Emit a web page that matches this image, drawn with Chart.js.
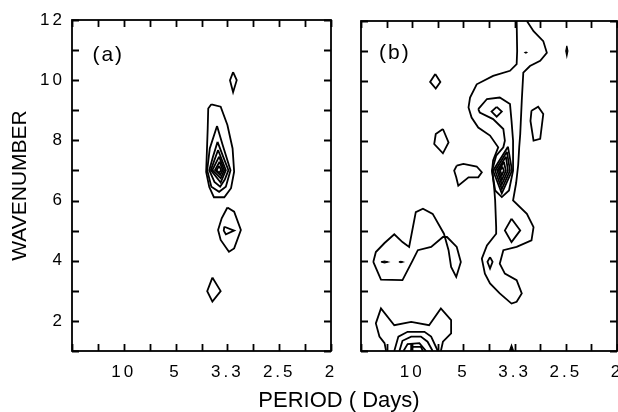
<!DOCTYPE html>
<html>
<head>
<meta charset="utf-8">
<script src="https://cdn.jsdelivr.net/npm/chart.js@4/dist/chart.umd.min.js"></script>
<style>
  html, body { margin: 0; padding: 0; background: #fff; overflow: hidden; width: 618px; height: 412px; }
  canvas { position: absolute; left: 0; top: 0; }
</style>
</head>
<body>
<canvas id="panelA" width="678" height="412"></canvas>
<canvas id="panelB" width="618" height="412"></canvas>
<script>
// x axis is frequency (cycles/day), labelled with the period in days
const periodTicks = [0.1, 0.2, 0.3, 0.4, 0.5];
const periodLabels = ['10', '5', '3.3', '2.5', '2'];
const waveLabels = [2, 4, 6, 8, 10, 12];

// contour lines, [frequency, wavenumber] pairs
// panel (a)
const aSpot10 = [[0.311,10.27],[0.318,10.0],[0.311,9.60],[0.305,10.0],[0.311,10.27]];
const aPeak1 = [[0.269,9.20],[0.287,9.12],[0.300,8.51],[0.310,7.73],[0.313,6.96],[0.307,6.41],[0.294,6.11],[0.274,6.11],[0.265,6.45],[0.259,6.95],[0.262,8.40],[0.263,9.06],[0.269,9.20]];
const aPeak2 = [[0.280,8.48],[0.291,7.84],[0.306,7.01],[0.297,6.46],[0.284,6.29],[0.269,6.46],[0.261,7.01],[0.266,7.73],[0.280,8.48]];
const aPeak3 = [[0.281,7.95],[0.292,7.45],[0.302,7.01],[0.295,6.70],[0.286,6.46],[0.275,6.62],[0.265,7.01],[0.272,7.45],[0.281,7.95]];
const aPeak4 = [[0.282,7.68],[0.297,7.01],[0.287,6.60],[0.268,7.01],[0.282,7.68]];
const aPeak5 = [[0.284,7.46],[0.294,7.01],[0.287,6.74],[0.271,7.01],[0.284,7.46]];
const aPeak6 = [[0.285,7.29],[0.291,7.01],[0.286,6.85],[0.276,7.01],[0.285,7.29]];
const aPeak7 = [[0.284,7.15],[0.288,7.01],[0.284,6.92],[0.279,7.01],[0.284,7.15]];
const aRing5 = [[0.300,5.77],[0.313,5.63],[0.326,5.02],[0.313,4.41],[0.303,4.30],[0.287,4.69],[0.282,5.02],[0.289,5.41],[0.300,5.77]];
const aCore5 = [[0.294,5.13],[0.313,5.0],[0.297,4.88],[0.293,5.0],[0.294,5.13]];
const aSpot3 = [[0.271,3.44],[0.287,2.99],[0.271,2.64],[0.261,2.99],[0.271,3.44]];

// panel (b)
const bRidge = [[0.304,12.0],[0.305,11.0],[0.304,10.56],[0.291,10.34],[0.258,10.17],[0.226,9.89],[0.213,9.45],[0.210,9.12],[0.216,8.78],[0.229,8.45],[0.252,8.18],[0.268,7.79],[0.258,7.35],[0.256,7.01],[0.260,6.46],[0.262,6.02],[0.264,5.13],[0.264,4.91],[0.246,4.52],[0.236,4.08],[0.242,3.58],[0.252,3.25],[0.271,2.92],[0.294,2.58],[0.304,2.64],[0.314,2.92],[0.304,3.36],[0.281,3.58],[0.271,3.91],[0.278,4.36],[0.304,4.47],[0.333,4.69],[0.337,5.13],[0.324,5.57],[0.297,6.02],[0.303,6.60],[0.307,7.20],[0.309,7.79],[0.311,8.23],[0.314,9.34],[0.317,10.28],[0.330,10.50],[0.350,10.67],[0.363,10.94],[0.356,11.33],[0.337,11.66],[0.324,12.0]];
const bRidge2 = [[0.229,9.06],[0.246,9.40],[0.271,9.45],[0.291,9.23],[0.294,8.67],[0.297,8.01],[0.297,7.51],[0.297,7.01],[0.289,6.35],[0.275,6.13],[0.262,6.35],[0.256,7.01],[0.264,7.51],[0.278,7.79],[0.281,8.01],[0.278,8.40],[0.258,8.73],[0.232,8.95],[0.229,9.06]];
const bPeak1 = [[0.287,7.81],[0.295,7.01],[0.275,6.25],[0.258,7.01],[0.287,7.81]];
const bPeak2 = [[0.285,7.64],[0.291,7.01],[0.275,6.40],[0.262,7.01],[0.285,7.64]];
const bPeak3 = [[0.283,7.48],[0.287,7.01],[0.275,6.55],[0.266,7.01],[0.283,7.48]];
const bPeak4 = [[0.279,7.31],[0.283,7.01],[0.275,6.70],[0.269,7.01],[0.279,7.31]];
const bPeak5 = [[0.276,7.15],[0.279,7.01],[0.275,6.86],[0.272,7.01],[0.276,7.15]];
const bSpot9 = [[0.265,9.14],[0.275,8.98],[0.265,8.81],[0.255,8.98],[0.265,9.14]];
const bSpot5 = [[0.294,5.41],[0.311,5.02],[0.294,4.63],[0.281,5.02],[0.294,5.41]];
const bSpot4 = [[0.252,4.13],[0.257,3.97],[0.252,3.75],[0.247,3.97],[0.252,4.13]];
const bOval8 = [[0.333,9.01],[0.346,9.14],[0.356,8.90],[0.350,8.07],[0.337,8.01],[0.331,8.67],[0.333,9.01]];
const bSpot10 = [[0.145,10.23],[0.155,9.97],[0.146,9.75],[0.135,9.97],[0.145,10.23]];
const bLeft8 = [[0.160,8.40],[0.171,7.95],[0.160,7.59],[0.143,7.90],[0.146,8.23],[0.160,8.40]];
const bBlob7 = [[0.187,7.18],[0.200,7.24],[0.226,7.15],[0.236,6.96],[0.229,6.79],[0.210,6.79],[0.190,6.51],[0.186,6.79],[0.182,7.01],[0.187,7.18]];
const bBlob4 = [[0.024,3.97],[0.029,4.30],[0.046,4.60],[0.065,4.89],[0.081,4.63],[0.094,4.47],[0.107,5.63],[0.121,5.74],[0.140,5.57],[0.162,4.91],[0.171,4.36],[0.176,3.80],[0.186,3.47],[0.195,3.97],[0.187,4.47],[0.168,4.80],[0.160,4.80],[0.137,4.47],[0.111,4.36],[0.101,4.02],[0.081,3.36],[0.039,3.38],[0.024,3.97]];
const bLow = [[0.049,1.0],[0.046,1.26],[0.036,1.48],[0.029,1.92],[0.039,2.42],[0.065,1.86],[0.098,1.97],[0.133,1.86],[0.156,2.42],[0.176,2.03],[0.176,1.59],[0.160,1.31],[0.156,1.0]];
const bArc2 = [[0.065,1.0],[0.073,1.48],[0.091,1.64],[0.124,1.64],[0.137,1.48],[0.150,1.0]];
const bArc3 = [[0.075,1.0],[0.081,1.34],[0.098,1.48],[0.117,1.48],[0.130,1.31],[0.140,1.0]];
const bArc4 = [[0.083,1.0],[0.091,1.23],[0.114,1.26],[0.127,1.0]];
const bArc5 = [[0.098,1.0],[0.101,1.14],[0.117,1.14],[0.121,1.0]];
const bStem = [[0.098,1.26],[0.098,1.0]];
// tiny closed contours that print as solid marks
const bSpot11 = [[0.402,11.17],[0.404,11.0],[0.402,10.83],[0.400,11.0],[0.402,11.17]];
const bDot = [[0.322,10.97],[0.324,10.95],[0.322,10.93],[0.320,10.95],[0.322,10.97]];
const bDash1 = [[0.039,3.97],[0.046,4.0],[0.053,3.97],[0.046,3.94],[0.039,3.97]];
const bDash2 = [[0.074,3.97],[0.078,3.99],[0.082,3.97],[0.078,3.95],[0.074,3.97]];
const bEdge = [[0.290,1.0],[0.294,1.2],[0.298,1.0],[0.290,1.0]];

const linesA = [aSpot10, aPeak1, aPeak2, aPeak3, aPeak4, aPeak5, aPeak6, aPeak7, aRing5, aCore5, aSpot3];
const linesB = [bRidge, bRidge2, bPeak1, bPeak2, bPeak3, bPeak4, bPeak5, bSpot9, bSpot5, bSpot4, bOval8,
                bSpot10, bLeft8, bBlob7, bBlob4, bLow, bArc2, bArc3, bArc4, bArc5, bStem];
const solidB = [bSpot11, bDot, bDash1, bDash2, bEdge];

const FONT = '"Liberation Sans", Arial, Helvetica, sans-serif';

function toSets(lines, solid) {
  return lines.map(pts => ({
    data: pts.map(p => ({ x: p[0], y: p[1] })),
    showLine: true,
    pointRadius: 0,
    borderColor: '#000',
    backgroundColor: '#000',
    borderWidth: solid ? 1.2 : 1.8,
    fill: solid ? 'shape' : false,
    tension: 0
  }));
}

// box frame plus inward tick marks on all four sides, and the panel letter.
// Tick labels are drawn after this (ticks.z = 1), with the wide spacing of the original.
const frameTicks = {
  id: 'frameTicks',
  beforeDraw(chart) {
    chart.ctx.letterSpacing = '0px';
  },
  afterDatasetsDraw(chart, args, opts) {
    const { ctx, chartArea: a, scales: { x, y } } = chart;
    const len = 7;
    ctx.save();
    ctx.strokeStyle = '#000';
    ctx.lineWidth = 1.8;
    ctx.strokeRect(a.left, a.top, a.right - a.left, a.bottom - a.top);
    ctx.beginPath();
    x.ticks.forEach(t => {
      const px = Math.round(x.getPixelForValue(t.value)) + 0.5;
      ctx.moveTo(px, a.bottom); ctx.lineTo(px, a.bottom - len);
      ctx.moveTo(px, a.top); ctx.lineTo(px, a.top + len);
    });
    y.ticks.forEach(t => {
      const py = Math.round(y.getPixelForValue(t.value)) + 0.5;
      ctx.moveTo(a.left, py); ctx.lineTo(a.left + len, py);
      ctx.moveTo(a.right, py); ctx.lineTo(a.right - len, py);
    });
    ctx.stroke();
    ctx.fillStyle = '#000';
    ctx.font = '21px ' + FONT;
    ctx.letterSpacing = '2px';
    ctx.textAlign = 'center';
    ctx.textBaseline = 'middle';
    ctx.fillText(opts.letter, x.getPixelForValue(opts.at[0]), y.getPixelForValue(opts.at[1]));
    ctx.restore();
    ctx.letterSpacing = '3px';
  }
};

function periodLabel(v) {
  const i = periodTicks.findIndex(t => Math.abs(t - v) < 1e-6);
  return i >= 0 ? periodLabels[i] : '';
}

function makePanel(id, sets, opts) {
  const scales = {
    x: {
      type: 'linear', min: 0, max: 0.5,
      grid: { display: false, drawTicks: false }, border: { display: false },
      ticks: {
        z: 1, stepSize: 0.05, autoSkip: false, maxRotation: 0, padding: 11,
        color: '#000', font: { family: FONT, size: 17 },
        callback: periodLabel
      },
      afterFit: s => { s.height = opts.xHeight; s.paddingLeft = 0; s.paddingRight = 0; }
    },
    y: {
      type: 'linear', min: 1, max: 12,
      grid: { display: false, drawTicks: false }, border: { display: false },
      ticks: {
        z: 1, display: opts.yLabels, stepSize: 1, autoSkip: false, padding: 7,
        color: '#000', font: { family: FONT, size: 17 },
        callback: v => waveLabels.includes(v) ? String(v) : ''
      },
      title: {
        display: opts.yLabels, text: 'WAVENUMBER', color: '#000',
        font: { family: FONT, size: 21, lineHeight: 1 }, padding: { top: 10, bottom: 0 }
      },
      afterFit: s => { s.width = opts.yWidth; s.paddingTop = 0; s.paddingBottom = 0; }
    }
  };
  if (opts.rightGap) {
    // empty spacer on the right so the bottom title can be centred across both panels
    scales.gap = {
      type: 'linear', position: 'right', min: 1, max: 12,
      grid: { display: false, drawTicks: false }, border: { display: false },
      ticks: { display: false },
      afterFit: s => { s.width = opts.rightGap; }
    };
  }
  return new Chart(document.getElementById(id), {
    type: 'scatter',
    data: { datasets: sets },
    plugins: [frameTicks],
    options: {
      responsive: false,
      animation: false,
      events: [],
      layout: { padding: opts.padding },
      scales: scales,
      plugins: {
        legend: { display: false },
        tooltip: { enabled: false },
        title: {
          display: opts.xTitle, text: 'PERIOD ( Days)', position: 'bottom', color: '#000',
          font: { family: FONT, size: 22, weight: 'normal', lineHeight: 1 },
          padding: { top: 0, bottom: 0 }
        },
        frameTicks: { letter: opts.letter, at: opts.letterAt }
      }
    }
  });
}

makePanel('panelA', toSets(linesA, false), {
  padding: { left: 0, top: 20, right: 0, bottom: 0 }, rightGap: 347,
  xHeight: 39, yWidth: 72, yLabels: true, xTitle: true,
  letter: '(a)', letterAt: [0.070, 10.83]
});

makePanel('panelB', toSets(linesB, false).concat(toSets(solidB, true)), {
  padding: { left: 361, top: 21, right: 1, bottom: 0 },
  xHeight: 61, yWidth: 0, yLabels: false, xTitle: false,
  letter: '(b)', letterAt: [0.066, 10.93]
});
</script>
</body>
</html>
